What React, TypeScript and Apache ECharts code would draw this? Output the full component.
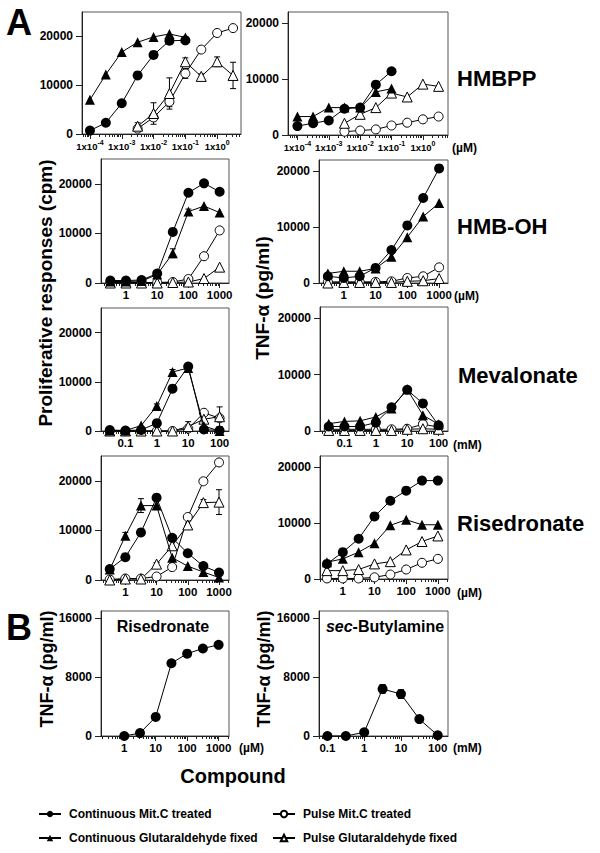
import React, { useEffect, useRef } from 'react';
import * as echarts from 'echarts';

const NAMES = [
  'Continuous Mit.C treated',
  'Continuous Glutaraldehyde fixed',
  'Pulse Mit.C treated',
  'Pulse Glutaraldehyde fixed',
];

// ---------- concentrations ----------
const hmbppConc = [1e-4, 3.16e-4, 1e-3, 3.16e-3, 1e-2, 3.16e-2, 1e-1, 3.16e-1, 1, 3.16];
const hmbohConc = [0.316, 1, 3.16, 10, 31.6, 100, 316, 1000];
const mevaConc = [0.0316, 0.1, 0.316, 1, 3.16, 10, 31.6, 100];
const riseConc = [0.316, 1, 3.16, 10, 31.6, 100, 316, 1000];
const riseBConc = [1, 3.16, 10, 31.6, 100, 316, 1000];
const secBConc = [0.1, 0.316, 1, 3.16, 10, 31.6, 100];

// ---------- HMBPP ----------
const hmbppProlifContMit = [700, 2300, 6300, 12000, 16200, 19100, 19200, null, null, null];
const hmbppProlifContGlu = [7000, 12200, 16800, 18800, 19900, 20500, 19800, null, null, null];
const hmbppProlifPulseMit = [null, null, null, 1100, 3400, 6600, 12400, 17300, 20700, 21700];
const hmbppProlifPulseGlu = [null, null, null, 1600, 4200, 8300, 14800, 11800, 14800, 12000];
const hmbppProlifPulseMitErr = [null, null, null, 500, 700, 1000, 1000, null, null, null];
const hmbppProlifPulseGluErr = [null, null, null, 700, 2200, 3200, 800, 500, 1000, 2700];

const hmbppTnfContMit = [1600, 2100, 2600, 4700, 4900, 9000, 11400, null, null, null];
const hmbppTnfContGlu = [3300, 3300, 4900, 4900, 4900, 7700, 8300, null, null, null];
const hmbppTnfPulseMit = [null, null, null, 600, 800, 1000, 1700, 2200, 2800, 3300];
const hmbppTnfPulseGlu = [null, null, null, 2100, 3700, 4900, 7500, 6800, 9100, 8700];

// ---------- HMB-OH ----------
const hmbohProlifContMit = [500, 500, 600, 1900, 10300, 18200, 20100, 18400];
const hmbohProlifContGlu = [300, 300, 400, 1700, 6000, 14400, 15500, 14200];
const hmbohProlifPulseMit = [100, 100, 100, 100, 200, 800, 5400, 10600];
const hmbohProlifPulseGlu = [0, 0, 0, 0, 100, 200, 900, 3200];
const hmbohProlifContGluErr = [null, null, null, null, 900, 500, null, null];

const hmbohTnfContMit = [1200, 900, 1200, 2700, 5900, 10300, 15200, 20500];
const hmbohTnfContGlu = [1700, 2100, 2100, 2600, 4700, 8200, 11900, 14300];
const hmbohTnfPulseMit = [200, 200, 200, 200, 300, 900, 1200, 2800];
const hmbohTnfPulseGlu = [0, 100, 100, 100, 100, 300, 400, 800];

// ---------- Mevalonate ----------
const mevaProlifContMit = [200, 100, 200, 1600, 8600, 13100, 300, 100];
const mevaProlifContGlu = [100, 100, 1100, 5100, 12000, 12800, 1000, 0];
const mevaProlifPulseMit = [0, 0, 0, 0, 0, 500, 3700, 2600];
const mevaProlifPulseGlu = [0, 0, 0, 0, 0, 900, 2400, 2900];
const mevaProlifContGluErr = [null, null, null, 400, 500, null, null, null];
const mevaProlifPulseGluErr = [null, null, null, null, null, 1000, 800, 2000];

const mevaTnfContMit = [800, 800, 800, 1500, 4200, 7300, 4900, 1000];
const mevaTnfContGlu = [1300, 1700, 1800, 2500, 4000, 7400, 2800, 1200];
const mevaTnfPulseMit = [300, 300, 300, 300, 300, 400, 1200, 700];
const mevaTnfPulseGlu = [100, 100, 100, 100, 100, 300, 400, 300];

// ---------- Risedronate ----------
const riseProlifContMit = [2200, 4600, 9600, 16600, 8500, 5400, 2800, 1500];
const riseProlifContGlu = [2100, 8900, 15000, 15000, 4500, 2800, 1600, 500];
const riseProlifPulseMit = [100, 300, 300, 700, 2600, 12700, 19900, 23700];
const riseProlifPulseGlu = [0, 200, 200, 3200, 6900, 11100, 15600, 15700];
const riseProlifContGluErr = [null, 700, 1400, null, null, null, null, null];
const riseProlifPulseGluErr = [null, null, null, 300, null, null, 600, 2500];

const riseTnfContMit = [2700, 4800, 7200, 11200, 14000, 15800, 17600, 17600];
const riseTnfContGlu = [3000, 3600, 4800, 6400, 9600, 10600, 9700, 9700];
const riseTnfPulseMit = [100, 100, 100, 300, 800, 1700, 2900, 3600];
const riseTnfPulseGlu = [1500, 1500, 1700, 2700, 3100, 5200, 6700, 7700];

// ---------- Panel B ----------
const riseBTnf = [0, 400, 2600, 9900, 11200, 11900, 12400];
const secBTnf = [0, 0, 500, 6400, 5700, 2300, 100];
const secBTnfErr = [null, null, null, 600, 600, null, null];

// ---------- tick labels ----------
const hmbppTickValues = [1e-4, 1e-3, 1e-2, 1e-1, 1];
const hmbppTickLabels = ['1x10^-4', '1x10^-3', '1x10^-2', '1x10^-1', '1x10^0'];
const uMTickValues = [1, 10, 100, 1000];
const uMTickLabels = ['1', '10', '100', '1000'];
const mMTickValues = [0.1, 1, 10, 100];
const mMTickLabels = ['0.1', '1', '10', '100'];
const yTicksA = [0, 10000, 20000];
const yTicksB = [0, 8000, 16000];

const FAM = '"Liberation Sans", Arial, Helvetica, sans-serif';

const STYLES = [
  { symbol: 'circle', size: 10, fill: '#000', bw: 0, z: 5 },
  { symbol: 'triangle', size: 10, fill: '#000', bw: 0, z: 4 },
  { symbol: 'circle', size: 9, fill: '#fff', bw: 1, z: 3 },
  { symbol: 'triangle', size: 10, fill: '#fff', bw: 1, z: 3 },
];

function minorTicks(min: number, max: number) {
  const out: number[] = [];
  for (let d = Math.floor(min); d <= Math.ceil(max); d++) {
    for (let k = 1; k <= 9; k++) {
      const v = d + Math.log10(k);
      if (v >= min && v <= max) out.push(v);
    }
  }
  return out;
}

type S = { key: number; conc: number[]; vals: (number | null)[]; err?: (number | null)[] };

function buildOption() {
  const panels: any[] = [
    { l: 82, t: 12, r: 241, b: 134, xmin: -4.25, xmax: 0.75, ymax: 25000, yt: yTicksA, tv: hmbppTickValues, tl: hmbppTickLabels, sup: true,
      series: [
        { key: 2, conc: hmbppConc, vals: hmbppProlifPulseMit, err: hmbppProlifPulseMitErr },
        { key: 3, conc: hmbppConc, vals: hmbppProlifPulseGlu, err: hmbppProlifPulseGluErr },
        { key: 1, conc: hmbppConc, vals: hmbppProlifContGlu },
        { key: 0, conc: hmbppConc, vals: hmbppProlifContMit },
      ] },
    { l: 288, t: 12, r: 448, b: 135, xmin: -4.3, xmax: 0.8, ymax: 22000, yt: yTicksA, tv: hmbppTickValues, tl: hmbppTickLabels, sup: true,
      series: [
        { key: 2, conc: hmbppConc, vals: hmbppTnfPulseMit },
        { key: 3, conc: hmbppConc, vals: hmbppTnfPulseGlu },
        { key: 1, conc: hmbppConc, vals: hmbppTnfContGlu },
        { key: 0, conc: hmbppConc, vals: hmbppTnfContMit },
      ] },
    { l: 101, t: 159, r: 229, b: 283, xmin: -0.8, xmax: 3.3, ymax: 25000, yt: yTicksA, tv: uMTickValues, tl: uMTickLabels,
      series: [
        { key: 2, conc: hmbohConc, vals: hmbohProlifPulseMit },
        { key: 3, conc: hmbohConc, vals: hmbohProlifPulseGlu },
        { key: 1, conc: hmbohConc, vals: hmbohProlifContGlu, err: hmbohProlifContGluErr },
        { key: 0, conc: hmbohConc, vals: hmbohProlifContMit },
      ] },
    { l: 319, t: 160, r: 448, b: 283, xmin: -0.78, xmax: 3.28, ymax: 22000, yt: yTicksA, tv: uMTickValues, tl: uMTickLabels,
      series: [
        { key: 2, conc: hmbohConc, vals: hmbohTnfPulseMit },
        { key: 3, conc: hmbohConc, vals: hmbohTnfPulseGlu },
        { key: 1, conc: hmbohConc, vals: hmbohTnfContGlu },
        { key: 0, conc: hmbohConc, vals: hmbohTnfContMit },
      ] },
    { l: 101, t: 308, r: 229, b: 431, xmin: -1.78, xmax: 2.3, ymax: 25000, yt: yTicksA, tv: mMTickValues, tl: mMTickLabels,
      series: [
        { key: 2, conc: mevaConc, vals: mevaProlifPulseMit },
        { key: 3, conc: mevaConc, vals: mevaProlifPulseGlu, err: mevaProlifPulseGluErr },
        { key: 1, conc: mevaConc, vals: mevaProlifContGlu, err: mevaProlifContGluErr },
        { key: 0, conc: mevaConc, vals: mevaProlifContMit },
      ] },
    { l: 320, t: 307, r: 448, b: 431, xmin: -1.78, xmax: 2.3, ymax: 22000, yt: yTicksA, tv: mMTickValues, tl: mMTickLabels,
      series: [
        { key: 2, conc: mevaConc, vals: mevaTnfPulseMit },
        { key: 3, conc: mevaConc, vals: mevaTnfPulseGlu },
        { key: 1, conc: mevaConc, vals: mevaTnfContGlu },
        { key: 0, conc: mevaConc, vals: mevaTnfContMit },
      ] },
    { l: 101, t: 456, r: 229, b: 580, xmin: -0.78, xmax: 3.32, ymax: 25000, yt: yTicksA, tv: uMTickValues, tl: uMTickLabels,
      series: [
        { key: 2, conc: riseConc, vals: riseProlifPulseMit },
        { key: 3, conc: riseConc, vals: riseProlifPulseGlu, err: riseProlifPulseGluErr },
        { key: 1, conc: riseConc, vals: riseProlifContGlu, err: riseProlifContGluErr },
        { key: 0, conc: riseConc, vals: riseProlifContMit },
      ] },
    { l: 320, t: 456, r: 448, b: 579, xmin: -0.72, xmax: 3.32, ymax: 22000, yt: yTicksA, tv: uMTickValues, tl: uMTickLabels,
      series: [
        { key: 2, conc: riseConc, vals: riseTnfPulseMit },
        { key: 3, conc: riseConc, vals: riseTnfPulseGlu },
        { key: 1, conc: riseConc, vals: riseTnfContGlu },
        { key: 0, conc: riseConc, vals: riseTnfContMit },
      ] },
    { l: 101, t: 611, r: 229, b: 736, xmin: -0.74, xmax: 3.33, ymax: 17000, yt: yTicksB, tv: uMTickValues, tl: uMTickLabels,
      series: [{ key: 0, conc: riseBConc, vals: riseBTnf }] },
    { l: 319, t: 611, r: 448, b: 736, xmin: -1.23, xmax: 2.28, ymax: 17000, yt: yTicksB, tv: mMTickValues, tl: mMTickLabels,
      series: [{ key: 0, conc: secBConc, vals: secBTnf, err: secBTnfErr }] },
  ];

  const grid: any[] = [];
  const xAxis: any[] = [];
  const yAxis: any[] = [];
  const series: any[] = [];
  const axisColor = '#222';

  panels.forEach((p, i) => {
    grid.push({
      left: p.l, top: p.t, width: p.r - p.l, height: p.b - p.t,
      show: true, borderColor: '#555', borderWidth: 1, backgroundColor: 'transparent',
      containLabel: false, outerBoundsMode: 'none',
    });
    const logVals = p.tv.map((v: number) => Math.log10(v));
    const fmt = (v: number) => {
      let idx = -1;
      logVals.forEach((lv: number, k: number) => { if (Math.abs(lv - v) < 1e-6) idx = k; });
      if (idx < 0) return '';
      const s: string = p.tl[idx];
      if (p.sup) {
        const [base, exp] = s.split('^');
        return `{b|${base}}{s|${exp}}`;
      }
      return s;
    };
    xAxis.push({
      type: 'value', gridIndex: i, position: 'bottom', min: p.xmin, max: p.xmax,
      axisLine: { show: true, onZero: false, lineStyle: { color: axisColor, width: 1 } },
      axisTick: { show: true, length: 5, customValues: logVals, lineStyle: { color: axisColor, width: 1 } },
      axisLabel: {
        show: true, customValues: logVals, formatter: fmt, margin: p.sup ? 5 : 6,
        fontSize: 11.5, fontWeight: 'bold', color: '#000', fontFamily: FAM,
        rich: {
          b: { fontSize: 9.5, fontWeight: 'bold', color: '#000', fontFamily: FAM, lineHeight: 14 },
          s: { fontSize: 7, fontWeight: 'bold', color: '#000', fontFamily: FAM, lineHeight: 6, verticalAlign: 'top' },
        },
      },
      splitLine: { show: false },
    });
    xAxis.push({
      type: 'value', gridIndex: i, position: 'bottom', min: p.xmin, max: p.xmax,
      axisLine: { show: false, onZero: false },
      axisTick: { show: true, length: 3, customValues: minorTicks(p.xmin, p.xmax), lineStyle: { color: axisColor, width: 1 } },
      axisLabel: { show: false },
      splitLine: { show: false },
    });
    yAxis.push({
      type: 'value', gridIndex: i, min: 0, max: p.ymax, position: 'left',
      axisLine: { show: true, onZero: false, lineStyle: { color: axisColor, width: 1 } },
      axisTick: { show: true, length: 6, customValues: p.yt, lineStyle: { color: axisColor, width: 1 } },
      axisLabel: {
        show: true, customValues: p.yt, formatter: (v: number) => String(v), margin: 9,
        fontSize: 12, fontWeight: 'bold', color: '#000', fontFamily: FAM,
      },
      splitLine: { show: false },
    });

    (p.series as S[]).forEach((s) => {
      const st = STYLES[s.key];
      const data: number[][] = [];
      s.conc.forEach((c, k) => { const v = s.vals[k]; if (v !== null && v !== undefined) data.push([Math.log10(c), v]); });
      if (s.err) {
        const edata: number[][] = [];
        s.conc.forEach((c, k) => {
          const e = s.err![k]; const v = s.vals[k];
          if (e !== null && e !== undefined && v !== null && v !== undefined) edata.push([Math.log10(c), v, e]);
        });
        series.push({
          type: 'custom', xAxisIndex: 2 * i, yAxisIndex: i, silent: true, z: 2, clip: false,
          data: edata,
          renderItem: (params: any, api: any) => {
            const x = api.value(0), y = api.value(1), e = api.value(2);
            const top = api.coord([x, y + e]);
            const bot = api.coord([x, Math.max(0, y - e)]);
            const w = 3;
            const ls = { stroke: '#000', lineWidth: 1 };
            return {
              type: 'group',
              children: [
                { type: 'line', shape: { x1: top[0], y1: top[1], x2: bot[0], y2: bot[1] }, style: ls },
                { type: 'line', shape: { x1: top[0] - w, y1: top[1], x2: top[0] + w, y2: top[1] }, style: ls },
                { type: 'line', shape: { x1: bot[0] - w, y1: bot[1], x2: bot[0] + w, y2: bot[1] }, style: ls },
              ],
            };
          },
        });
      }
      series.push({
        type: 'line', name: NAMES[s.key], xAxisIndex: 2 * i, yAxisIndex: i,
        data, symbol: st.symbol, symbolSize: st.size, showSymbol: true,
        lineStyle: { color: '#000', width: 1 },
        itemStyle: { color: st.fill, borderColor: '#000', borderWidth: st.bw },
        clip: false, silent: true, z: st.z, emphasis: { disabled: true },
      });
    });
  });

  const txt = (x: number, y: number, text: string, fontSize: number, extra: any = {}) => ({
    type: 'text', x, y, silent: true,
    style: {
      text, fontSize, fontWeight: 'bold', fontFamily: FAM, fill: '#000',
      align: extra.align || 'left', verticalAlign: 'middle', rich: extra.rich,
    },
    rotation: extra.rotation || 0,
  });

  const graphic: any[] = [
    txt(6, 22, 'A', 36),
    txt(6, 627, 'B', 36),
    txt(457, 78, 'HMBPP', 22),
    txt(457, 226, 'HMB-OH', 22),
    txt(458, 375, 'Mevalonate', 22),
    txt(457, 523, 'Risedronate', 22),
    txt(452, 148, '(µM)', 12),
    txt(454, 296, '(µM)', 12),
    txt(453, 445, '(mM)', 12),
    txt(457, 593, '(µM)', 12),
    txt(239, 748, '(µM)', 12),
    txt(453, 748, '(mM)', 12),
    txt(45, 293, 'Proliferative responses (cpm)', 19, { align: 'center', rotation: Math.PI / 2 }),
    txt(262, 298, 'TNF-α (pg/ml)', 19, { align: 'center', rotation: Math.PI / 2 }),
    txt(47, 669, 'TNF-α (pg/ml)', 18, { align: 'center', rotation: Math.PI / 2 }),
    txt(264, 669, 'TNF-α (pg/ml)', 18, { align: 'center', rotation: Math.PI / 2 }),
    txt(233, 776, 'Compound', 20, { align: 'center' }),
    txt(163, 626, 'Risedronate', 16, { align: 'center' }),
    txt(385, 626, '{i|sec}-Butylamine', 16, {
      align: 'center',
      rich: { i: { fontStyle: 'italic', fontWeight: 'bold', fontSize: 16, fontFamily: FAM, fill: '#000' } },
    }),
  ];

  const legendText = { fontSize: 12, fontWeight: 'bold', color: '#000', fontFamily: FAM, padding: [0, 0, 0, 3] };

  return {
    animation: false,
    backgroundColor: '#fff',
    grid, xAxis, yAxis, series, graphic,
    legend: [
      { data: [NAMES[0], NAMES[1]], left: 33, top: 803, orient: 'vertical', itemWidth: 22, itemHeight: 8, itemGap: 12, textStyle: legendText, selectedMode: false },
      { data: [NAMES[2], NAMES[3]], left: 267, top: 803, orient: 'vertical', itemWidth: 22, itemHeight: 8, itemGap: 12, textStyle: legendText, selectedMode: false },
    ],
  };
}

export default function App() {
  const ref = useRef<HTMLDivElement>(null);
  useEffect(() => {
    document.body.style.margin = '0';
    const chart = echarts.init(ref.current as HTMLDivElement, null, { renderer: 'svg' });
    chart.setOption(buildOption() as any);
    return () => chart.dispose();
  }, []);
  return <div ref={ref} style={{ width: 600, height: 853 }} />;
}
